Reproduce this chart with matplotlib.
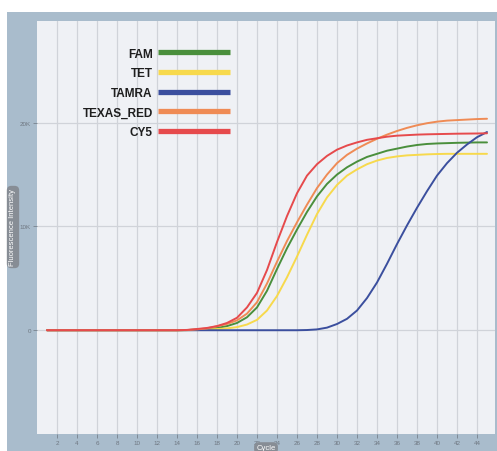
"""
Curvas de amplificación qPCR por fluoróforo (FAM, TET, TAMRA, TEXAS_RED, CY5).
Salida: out.png
"""
import matplotlib
matplotlib.use("Agg")

import matplotlib.pyplot as plt
from matplotlib.patches import Rectangle

# ── Datos ─────────────────────────────────────────────────────────
CYCLES = list(range(1, 46))

FAM = [0] * 14 + [
    15, 60, 120, 220, 400, 700, 1250, 2200, 3800, 5900,
    7900, 9700, 11400, 12900, 14100, 15000, 15700, 16250, 16700, 17000,
    17300, 17500, 17700, 17850, 17950, 18000, 18030, 18060, 18080, 18100,
    18100,
]
TET = [0] * 14 + [
    5, 20, 60, 110, 180, 300, 550, 1000, 1900, 3300,
    5100, 7100, 9200, 11200, 12800, 14000, 14900, 15500, 16000, 16350,
    16600, 16750, 16850, 16900, 16950, 16980, 17000, 17000, 17000, 17000,
    17000,
]
TAMRA = [0] * 26 + [
    20, 80, 250, 600, 1100, 1900, 3100, 4600, 6400, 8300,
    10100, 11800, 13400, 14900, 16100, 17100, 17900, 18600, 19100,
]
TEXAS_RED = [0] * 14 + [
    20, 80, 180, 380, 600, 950, 1600, 2700, 4500, 6600,
    8600, 10400, 12100, 13700, 15000, 16100, 16900, 17500, 18000, 18450,
    18850, 19200, 19500, 19750, 19950, 20100, 20200, 20250, 20300, 20350,
    20380,
]
CY5 = [0] * 14 + [
    30, 120, 220, 400, 700, 1200, 2200, 3600, 5800, 8500,
    11000, 13200, 14900, 16000, 16800, 17400, 17800, 18100, 18350, 18500,
    18650, 18750, 18800, 18850, 18880, 18900, 18920, 18940, 18950, 18960,
    18980,
]

SERIES = ["FAM", "TET", "TAMRA", "TEXAS_RED", "CY5"]
VALUES = [FAM, TET, TAMRA, TEXAS_RED, CY5]
COLORS = ["#4a8f3c", "#f7d94c", "#3b4f9e", "#ef8b55", "#e64a4c"]

X_TICKS = list(range(2, 45, 2))
Y_TICKS = [0, 10000, 20000]
Y_TICK_LABELS = ["0", "10K", "20K"]

W, H = 497, 452


def main() -> None:
    plt.rcParams["font.family"] = ["Liberation Sans", "DejaVu Sans"]
    fig = plt.figure(figsize=(W / 100, H / 100), dpi=100, facecolor="white")

    # marco azul grisáceo (detrás de los ejes)
    fig.patches.append(Rectangle((7 / W, 0), 1 - 7 / W, 1 - 13 / H,
                                 transform=fig.transFigure,
                                 facecolor="#a9bccc", edgecolor="none", zorder=-10))

    left, right, top, bottom = 37, 495, 22, 435
    ax = fig.add_axes([left / W, 1 - bottom / H, (right - left) / W, (bottom - top) / H])
    ax.set_facecolor("#eff1f5")

    for name, vals, col in zip(SERIES, VALUES, COLORS):
        ax.plot(CYCLES, vals, color=col, linewidth=1.4, label=name,
                solid_capstyle="round", solid_joinstyle="round")

    ax.set_xlim(0, 45.8)
    ax.set_ylim(-10000, 29800)
    ax.set_xticks(X_TICKS)
    ax.set_xticklabels([str(t) for t in X_TICKS])
    ax.set_yticks(Y_TICKS)
    ax.set_yticklabels(Y_TICK_LABELS)
    ax.tick_params(axis="both", labelsize=4.5, colors="#6e7680",
                   length=3, width=0.5, pad=1.5)
    ax.grid(True, color="#d0d3d9", linewidth=0.9)
    ax.set_axisbelow(True)
    for sp in ax.spines.values():
        sp.set_visible(False)

    # ── Leyenda (texto a la izquierda, alineada a la derecha) ─────
    leg = ax.legend(
        loc="upper right", bbox_to_anchor=(230 / W, 1 - 48.5 / H),
        bbox_transform=fig.transFigure, frameon=False, markerfirst=False,
        handlelength=6.1, handletextpad=0.45, labelspacing=0.65,
        borderpad=0, borderaxespad=0,
        prop={"size": 8.5, "weight": "bold"},
    )
    for line in leg.get_lines():
        line.set_linewidth(3.8)
        line.set_solid_capstyle("butt")
    for txt in leg.get_texts():
        txt.set_color("#1e1e1e")

    # etiquetas de ejes en cajas redondeadas
    box = dict(boxstyle="round,pad=0.35,rounding_size=0.6",
               facecolor="#878d95", edgecolor="none")
    fig.text(13 / W, 1 - 228 / H, "Fluorescence Intensity", rotation=90,
             ha="center", va="center", color="white", fontsize=5.5, bbox=box)
    fig.text(266 / W, 1 - 449 / H, "Cycle", ha="center", va="center",
             color="white", fontsize=5.5,
             bbox=dict(boxstyle="round,pad=0.3,rounding_size=0.6",
                       facecolor="#878d95", edgecolor="none"))

    fig.savefig("out.png", dpi=100)
    plt.close(fig)


if __name__ == "__main__":
    main()
